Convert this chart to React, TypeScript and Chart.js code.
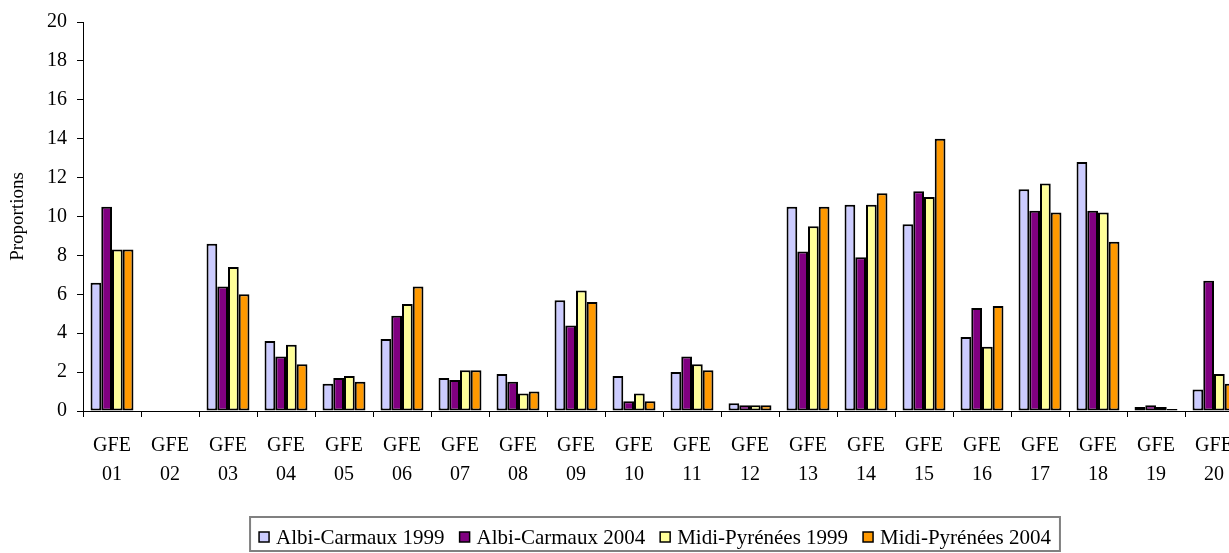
import React, { useEffect, useRef } from "react";
import { Chart, registerables } from "chart.js";

Chart.register(...registerables);

const categories: string[][] = [
  ["GFE", "01"], ["GFE", "02"], ["GFE", "03"], ["GFE", "04"], ["GFE", "05"],
  ["GFE", "06"], ["GFE", "07"], ["GFE", "08"], ["GFE", "09"], ["GFE", "10"],
  ["GFE", "11"], ["GFE", "12"], ["GFE", "13"], ["GFE", "14"], ["GFE", "15"],
  ["GFE", "16"], ["GFE", "17"], ["GFE", "18"], ["GFE", "19"], ["GFE", "20"],
];

const albi1999 = [6.6, 0, 8.6, 3.6, 1.4, 3.7, 1.7, 1.9, 5.7, 1.8, 2.0, 0.4, 10.5, 10.6, 9.6, 3.8, 11.4, 12.8, 0.2, 1.1];
const albi2004 = [10.5, 0, 6.4, 2.8, 1.7, 4.9, 1.6, 1.5, 4.4, 0.5, 2.8, 0.3, 8.2, 7.9, 11.3, 5.3, 10.3, 10.3, 0.3, 6.7];
const mp1999 = [8.3, 0, 7.4, 3.4, 1.8, 5.5, 2.1, 0.9, 6.2, 0.9, 2.4, 0.3, 9.5, 10.6, 11.0, 3.3, 11.7, 10.2, 0.2, 1.9];
const mp2004 = [8.3, 0, 6.0, 2.4, 1.5, 6.4, 2.1, 1.0, 5.6, 0.5, 2.1, 0.3, 10.5, 11.2, 14.0, 5.4, 10.2, 8.7, 0.1, 1.4];

const seriesLabels = ["Albi-Carmaux 1999", "Albi-Carmaux 2004", "Midi-Pyrénées 1999", "Midi-Pyrénées 2004"];
const seriesColors = ["#CCCCFF", "#800080", "#FFFF99", "#FF9900"];

const FONT = "'Liberation Serif', 'Times New Roman', serif";

const boxLegend = {
  id: "boxLegend",
  afterDraw(chart: any) {
    const ctx = chart.ctx as CanvasRenderingContext2D;
    const ds = chart.data.datasets;
    ctx.save();
    ctx.font = `21px ${FONT}`;
    const boxSize = 10;
    const boxGap = 7;
    const itemGap = 15;
    const widths = ds.map((d: any) => ctx.measureText(d.label).width);
    const total = widths.reduce((a: number, w: number) => a + boxSize + boxGap + w, 0) + itemGap * (ds.length - 1);
    const cx = (chart.chartArea.left + chart.chartArea.right) / 2 - 8;
    let x = cx - total / 2;
    const cy = 537;
    ctx.strokeStyle = "#808080";
    ctx.lineWidth = 2;
    ctx.strokeRect(x - 9, 517, total + 18, 34);
    ctx.textBaseline = "middle";
    ctx.textAlign = "left";
    ds.forEach((d: any, i: number) => {
      ctx.fillStyle = d.backgroundColor;
      ctx.fillRect(x, cy - boxSize / 2, boxSize, boxSize);
      ctx.strokeStyle = "#000";
      ctx.lineWidth = 1.5;
      ctx.strokeRect(x, cy - boxSize / 2, boxSize, boxSize);
      x += boxSize + boxGap;
      ctx.fillStyle = "#000";
      ctx.fillText(d.label, x, cy + 1);
      x += widths[i] + itemGap;
    });
    ctx.restore();
  },
};

export default function App() {
  const canvasRef = useRef<HTMLCanvasElement | null>(null);

  useEffect(() => {
    if (!canvasRef.current) return;
    const values = [albi1999, albi2004, mp1999, mp2004];
    const chart = new Chart(canvasRef.current, {
      type: "bar",
      data: {
        labels: categories,
        datasets: values.map((v, i) => ({
          label: seriesLabels[i],
          data: v,
          backgroundColor: seriesColors[i],
          borderColor: "#000",
          borderWidth: 2,
          borderSkipped: false,
          categoryPercentage: 0.74,
          barPercentage: 1.0,
        })),
      },
      options: {
        responsive: false,
        animation: false,
        devicePixelRatio: 1,
        layout: { padding: { left: 0, right: 7, top: 16, bottom: 42 } },
        plugins: {
          legend: { display: false },
          tooltip: { enabled: false },
        },
        scales: {
          x: {
            grid: { display: true, drawOnChartArea: false, tickLength: 6, color: "#000", offset: true },
            border: { display: true, color: "#000", width: 1 },
            ticks: {
              color: "#000",
              padding: 14,
              maxRotation: 0,
              autoSkip: false,
              font: { family: FONT, size: 20, lineHeight: 1.45 },
            },
            afterFit: (scale: any) => {
              scale.height = 100;
            },
          },
          y: {
            min: 0,
            max: 20,
            ticks: {
              stepSize: 2,
              color: "#000",
              padding: 10,
              font: { family: FONT, size: 20 },
            },
            grid: { display: true, drawOnChartArea: false, tickLength: 6, color: "#000" },
            border: { display: true, color: "#000", width: 1 },
            title: {
              display: true,
              text: "Proportions",
              color: "#000",
              font: { family: FONT, size: 19 },
              padding: { top: 7, bottom: 7 },
            },
            afterFit: (scale: any) => {
              scale.width = 83;
            },
          },
        },
      },
      plugins: [boxLegend],
    });
    return () => chart.destroy();
  }, []);

  return (
    <div style={{ position: "absolute", left: 0, top: 0, width: 1229, height: 553, overflow: "hidden", background: "#fff" }}>
      <canvas ref={canvasRef} width={1250} height={553} style={{ width: 1250, height: 553, display: "block" }} />
    </div>
  );
}
